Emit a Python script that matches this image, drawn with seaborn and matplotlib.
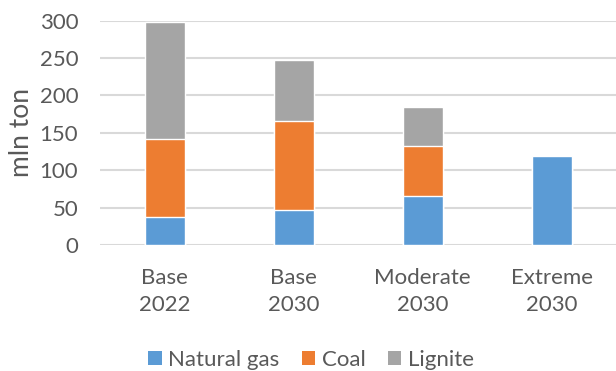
import numpy as np
import pandas as pd
import matplotlib
matplotlib.use("Agg")
import matplotlib.pyplot as plt
from matplotlib.patches import Patch
import seaborn as sns

# Emissions by scenario (mln ton)
categories = ["Base\n2022", "Base\n2030", "Moderate\n2030", "Extreme\n2030"]
natural_gas = [37, 47, 66, 119]
coal = [105, 119, 67, 0]
lignite = [157, 82, 52, 0]
y_ticks = [0, 50, 100, 150, 200, 250, 300]

colors = {"Natural gas": "#5B9BD5", "Coal": "#ED7D31", "Lignite": "#A5A5A5"}
text_color = "#595959"

sns.set_theme(style="white")
plt.rcParams["font.family"] = ["Lato", "DejaVu Sans"]

df = pd.DataFrame({
    "category": categories,
    "Natural gas": natural_gas,
    "Coal": coal,
    "Lignite": lignite,
})
# cumulative heights for stacking (draw tallest layer first)
df["gas_top"] = df["Natural gas"]
df["coal_top"] = df["gas_top"] + df["Coal"]
df["lignite_top"] = df["coal_top"] + df["Lignite"]

fig = plt.figure(figsize=(6.16, 3.71), dpi=100)
ax = fig.add_axes([0.163, 0.340, 0.837, 0.604])

ax.set_axisbelow(True)
for yt in y_ticks:
    ax.axhline(yt, color="#D9D9D9", lw=1.5, zorder=0)

bar_w = 0.31
sns.barplot(data=df, x="category", y="lignite_top", color=colors["Lignite"],
            saturation=1, width=bar_w, ax=ax, zorder=2)
sns.barplot(data=df, x="category", y="coal_top", color=colors["Coal"],
            saturation=1, width=bar_w, ax=ax, zorder=3)
sns.barplot(data=df, x="category", y="gas_top", color=colors["Natural gas"],
            saturation=1, width=bar_w, ax=ax, zorder=4)

fs = 16
ax.set_ylim(0, 300)
ax.set_xlim(-0.5, len(categories) - 0.5)
ax.set_yticks(y_ticks)
ax.set_yticklabels([str(t) for t in y_ticks])
ax.set_xlabel("")
ax.set_ylabel("mln ton", fontsize=19, color=text_color, labelpad=4)
ax.tick_params(axis="y", length=0, pad=16, labelsize=fs, labelcolor=text_color)
ax.tick_params(axis="x", length=0, pad=17, labelsize=fs, labelcolor=text_color)
for lbl in ax.get_xticklabels():
    lbl.set_linespacing(1.38)
for s in ax.spines.values():
    s.set_visible(False)

handles = [Patch(facecolor=c, edgecolor="none", label=k) for k, c in colors.items()]
fig.legend(handles=handles, loc="center", bbox_to_anchor=(0.505, 0.03),
           ncol=3, frameon=False, fontsize=fs, labelcolor=text_color,
           handlelength=0.6, handleheight=0.6, handletextpad=0.3,
           columnspacing=1.0)

fig.savefig("out.png", dpi=100)
